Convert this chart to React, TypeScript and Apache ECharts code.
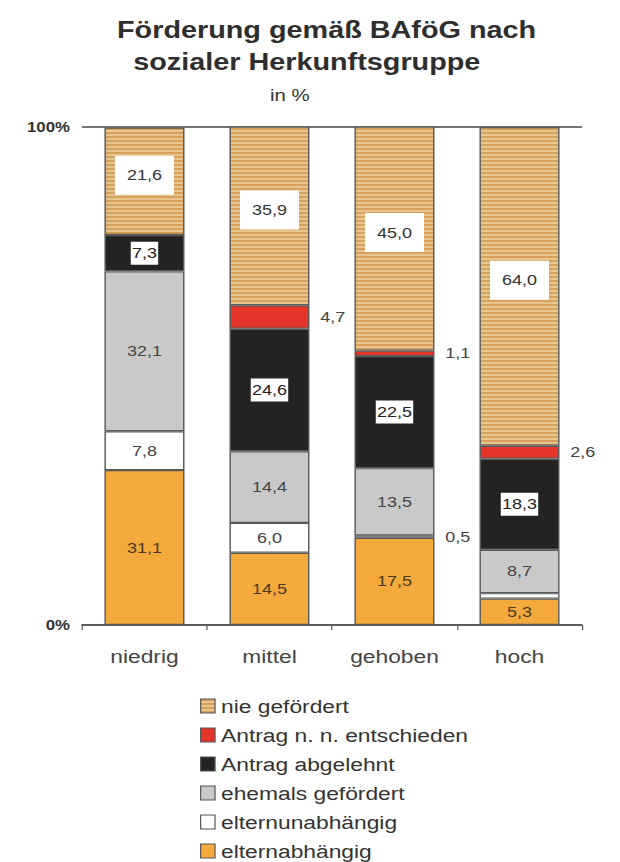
import React, { useEffect, useRef } from "react";
import * as echarts from "echarts";

const categories = ["niedrig", "mittel", "gehoben", "hoch"];
const seriesNames = [
  "elternabhängig",
  "elternunabhängig",
  "ehemals gefördert",
  "Antrag abgelehnt",
  "Antrag n. n. entschieden",
  "nie gefördert",
];
const elternabhaengig = [31.1, 14.5, 17.5, 5.3];
const elternunabhaengig = [7.8, 6.0, 0.5, 1.1];
const ehemalsGefoerdert = [32.1, 14.4, 13.5, 8.7];
const antragAbgelehnt = [7.3, 24.6, 22.5, 18.3];
const antragNichtEntschieden = [0, 4.7, 1.1, 2.6];
const nieGefoerdert = [21.6, 35.9, 45.0, 64.0];
const yTicks = [0, 100];

const FONT = "'Liberation Sans', Arial, sans-serif";

function makeStripes() {
  const c = document.createElement("canvas");
  c.width = 4;
  c.height = 4;
  const ctx = c.getContext("2d")!;
  ctx.fillStyle = "#d6a15c";
  ctx.fillRect(0, 0, 4, 2);
  ctx.fillStyle = "#e8c48e";
  ctx.fillRect(0, 2, 4, 2);
  return c;
}

const fmt = (p: any) => (p.value ? Number(p.value).toFixed(1).replace(".", ",") : "");

export default function App() {
  const ref = useRef<HTMLDivElement>(null);
  useEffect(() => {
    if (!ref.current) return;
    const chart = echarts.init(ref.current, null, { renderer: "svg" });
    const stripes = makeStripes();
    const values = [
      elternabhaengig,
      elternunabhaengig,
      ehemalsGefoerdert,
      antragAbgelehnt,
      antragNichtEntschieden,
      nieGefoerdert,
    ];
    const colors: any[] = [
      "#f4a93c",
      "#ffffff",
      "#c9c9c9",
      "#232323",
      "#e5352b",
      { image: stripes, repeat: "repeat" },
    ];
    const hidden: Record<string, boolean> = {
      "elternunabhängig|hoch": true,
      "Antrag n. n. entschieden|niedrig": true,
    };
    const insideLabel: any[] = [
      { color: "#4a3b22" },
      { color: "#444" },
      { color: "#444" },
      { color: "#222", backgroundColor: "#fff", padding: [4, 1] },
      { color: "#444" },
      { color: "#333", backgroundColor: "#fff", padding: [12, 10], offset: [0, -6] },
    ];
    const series = seriesNames.map((name, si) => ({
      name,
      type: "bar",
      stack: "total",
      barWidth: 66.7,
      itemStyle: { color: colors[si], borderColor: "#5a5a5a", borderWidth: 1.2 },
      label: {
        show: true,
        position: "inside",
        fontFamily: FONT,
        fontSize: 15,
        formatter: fmt,
        ...insideLabel[si],
      },
      data: values[si].map((v, ci) => {
        const key = name + "|" + categories[ci];
        if (hidden[key]) return { value: v, label: { show: false } };
        if (v < 5 && (si === 1 || si === 4)) {
          return {
            value: v,
            label: { position: "right", distance: 9, color: "#444", backgroundColor: "transparent", padding: 0 },
          };
        }
        return v;
      }),
    }));

    chart.setOption({
      animation: false,
      textStyle: { fontFamily: FONT },
      graphic: [
        {
          type: "text",
          x: 97.5,
          y: 30,
          style: {
            text: "Förderung gemäß BAföG nach",
            fontFamily: FONT,
            fontSize: 24,
            fontWeight: "bold",
            fill: "#2e2e2e",
            textVerticalAlign: "middle",
          },
        },
        {
          type: "text",
          x: 111,
          y: 62,
          style: {
            text: "sozialer Herkunftsgruppe",
            fontFamily: FONT,
            fontSize: 24,
            fontWeight: "bold",
            fill: "#2e2e2e",
            textVerticalAlign: "middle",
          },
        },
        {
          type: "text",
          x: 225,
          y: 95,
          style: {
            text: "in %",
            fontFamily: FONT,
            fontSize: 17,
            fill: "#333",
            textVerticalAlign: "middle",
          },
        },
      ],
      legend: {
        orient: "vertical",
        left: 161.7,
        top: 691,
        icon: "rect",
        itemWidth: 12,
        itemHeight: 14,
        itemGap: 9,
        data: [...seriesNames].reverse(),
        textStyle: { fontFamily: FONT, fontSize: 19, color: "#333", lineHeight: 20 },
        itemStyle: { borderColor: "#555", borderWidth: 1 },
      },
      grid: { left: 68.3, right: 32, top: 127, bottom: 275 },
      xAxis: {
        type: "category",
        data: categories,
        axisLine: { lineStyle: { color: "#555", width: 1.5 } },
        axisTick: { show: true, length: 5, lineStyle: { color: "#555" } },
        axisLabel: { fontFamily: FONT, fontSize: 19, color: "#444", margin: 22 },
      },
      yAxis: {
        type: "value",
        min: yTicks[0],
        max: yTicks[1],
        interval: 100,
        axisLine: { show: false },
        axisTick: { show: false },
        splitLine: { show: true, lineStyle: { color: "#444", width: 1.5 } },
        axisLabel: {
          fontFamily: FONT,
          fontSize: 14,
          fontWeight: "bold",
          color: "#333",
          margin: 10,
          formatter: "{value}%",
        },
      },
      series,
    });
    return () => chart.dispose();
  }, []);

  return (
    <div style={{ position: "absolute", left: 0, top: 0, width: 620, height: 862, overflow: "hidden", background: "#fff" }}>
      <div
        ref={ref}
        style={{ width: 517, height: 900, transform: "scaleX(1.2)", transformOrigin: "0 0" }}
      />
    </div>
  );
}
